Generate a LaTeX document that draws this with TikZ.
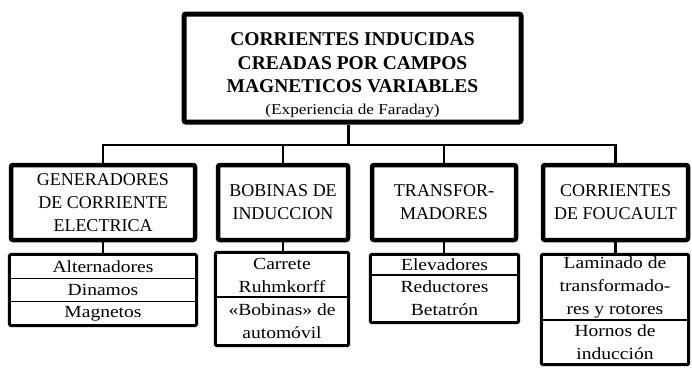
\documentclass[tikz,border=0pt]{standalone}
\usepackage{fontspec}
\setmainfont{Liberation Serif}
\newfontfamily\widefont{Liberation Serif}[FakeStretch=1.15]
\usetikzlibrary{fit}
\tikzset{
  headbox/.style={draw=black, line width=5pt, rounded corners=2pt, minimum width=337pt,
                  minimum height=108pt, inner sep=0pt, align=center,
                  font=\fontsize{19.5}{23.5}\selectfont},
  catbox/.style={draw=black, line width=4.5pt, rounded corners=2pt, minimum height=75pt,
                 inner sep=0pt, align=center, font=\fontsize{18}{23}\selectfont},
  leaf/.style n args={2}{draw=black, line width=1.4pt, inner sep=0pt, align=center,
                 minimum width=#1pt, minimum height=#2pt,
                 font=\widefont\fontsize{17}{23}\selectfont},
  leafframe/.style={draw=black, line width=3pt, rounded corners=1.5pt, inner sep=0pt},
  link/.style={draw=black, line width=2.4pt},
}
\begin{document}
\begin{tikzpicture}[x=1pt, y=-1pt]
  \useasboundingbox (0,0) rectangle (692,367);
  % main box
  \node[headbox] (head) at (352.5,68) {\rule{0pt}{27pt}\textbf{CORRIENTES INDUCIDAS}\\
    \textbf{CREADAS POR CAMPOS}\\ \textbf{MAGNETICOS VARIABLES}\\[-2pt]
    {\widefont\fontsize{15}{21}\selectfont (Experiencia de Faraday)}};
  % categories
  \node[catbox, minimum width=184pt] (cat1) at (103,202.5)
    {GENERADORES\\DE CORRIENTE\\ELECTRICA};
  \node[catbox, minimum width=130pt] (cat2) at (283,202.5) {BOBINAS DE\\INDUCCION};
  \node[catbox, minimum width=144pt] (cat3) at (444,202.5) {TRANSFOR-\\MADORES};
  \node[catbox, minimum width=145pt] (cat4) at (615.5,202.5) {CORRIENTES\\DE FOUCAULT};
  % leaves
  \node[leaf={186}{23.3}] (it1a) at (103,266.7) {Alternadores};
  \node[leaf={186}{23.3}] (it1b) at (103,290)   {Dinamos};
  \node[leaf={186}{23.3}] (it1c) at (103,313.3) {Magnetos};
  \node[leaf={132}{44}] (it2a) at (282,275) {Carrete\\Ruhmkorff};
  \node[leaf={132}{48}] (it2b) at (282,321) {«Bobinas» de\\automóvil};
  \node[leaf={147}{20}] (it3a) at (444.5,265)   {Elevadores};
  \node[leaf={147}{47}] (it3b) at (444.5,298.5) {Reductores\\Betatrón};
  \node[leaf={146}{65}] (it4a) at (615,287.5) {Laminado de\\transformado-\\res y rotores};
  \node[leaf={146}{44}] (it4b) at (615,342)   {Hornos de\\inducción};
  \node[leafframe, fit=(it1a)(it1c)] (fr1) {};
  \node[leafframe, fit=(it2a)(it2b)] (fr2) {};
  \node[leafframe, fit=(it3a)(it3b)] (fr3) {};
  \node[leafframe, fit=(it4a)(it4b)] (fr4) {};
  % connectors
  \coordinate (bus) at (0,145);
  \draw[link] ([xshift=-4pt]head.south) -- ([xshift=-4pt]head.south |- bus);
  \draw[link] (cat1.north) -- (cat1.north |- bus) -- (cat4.north |- bus) -- (cat4.north);
  \foreach \c in {cat2,cat3}
    \draw[link] (\c.north) -- (\c.north |- bus);
  \foreach \c/\s in {cat1/fr1,cat2/fr2,cat3/fr3,cat4/fr4}
    \draw[link] (\c.south) -- (\c.south |- \s.north);
\end{tikzpicture}
\end{document}
